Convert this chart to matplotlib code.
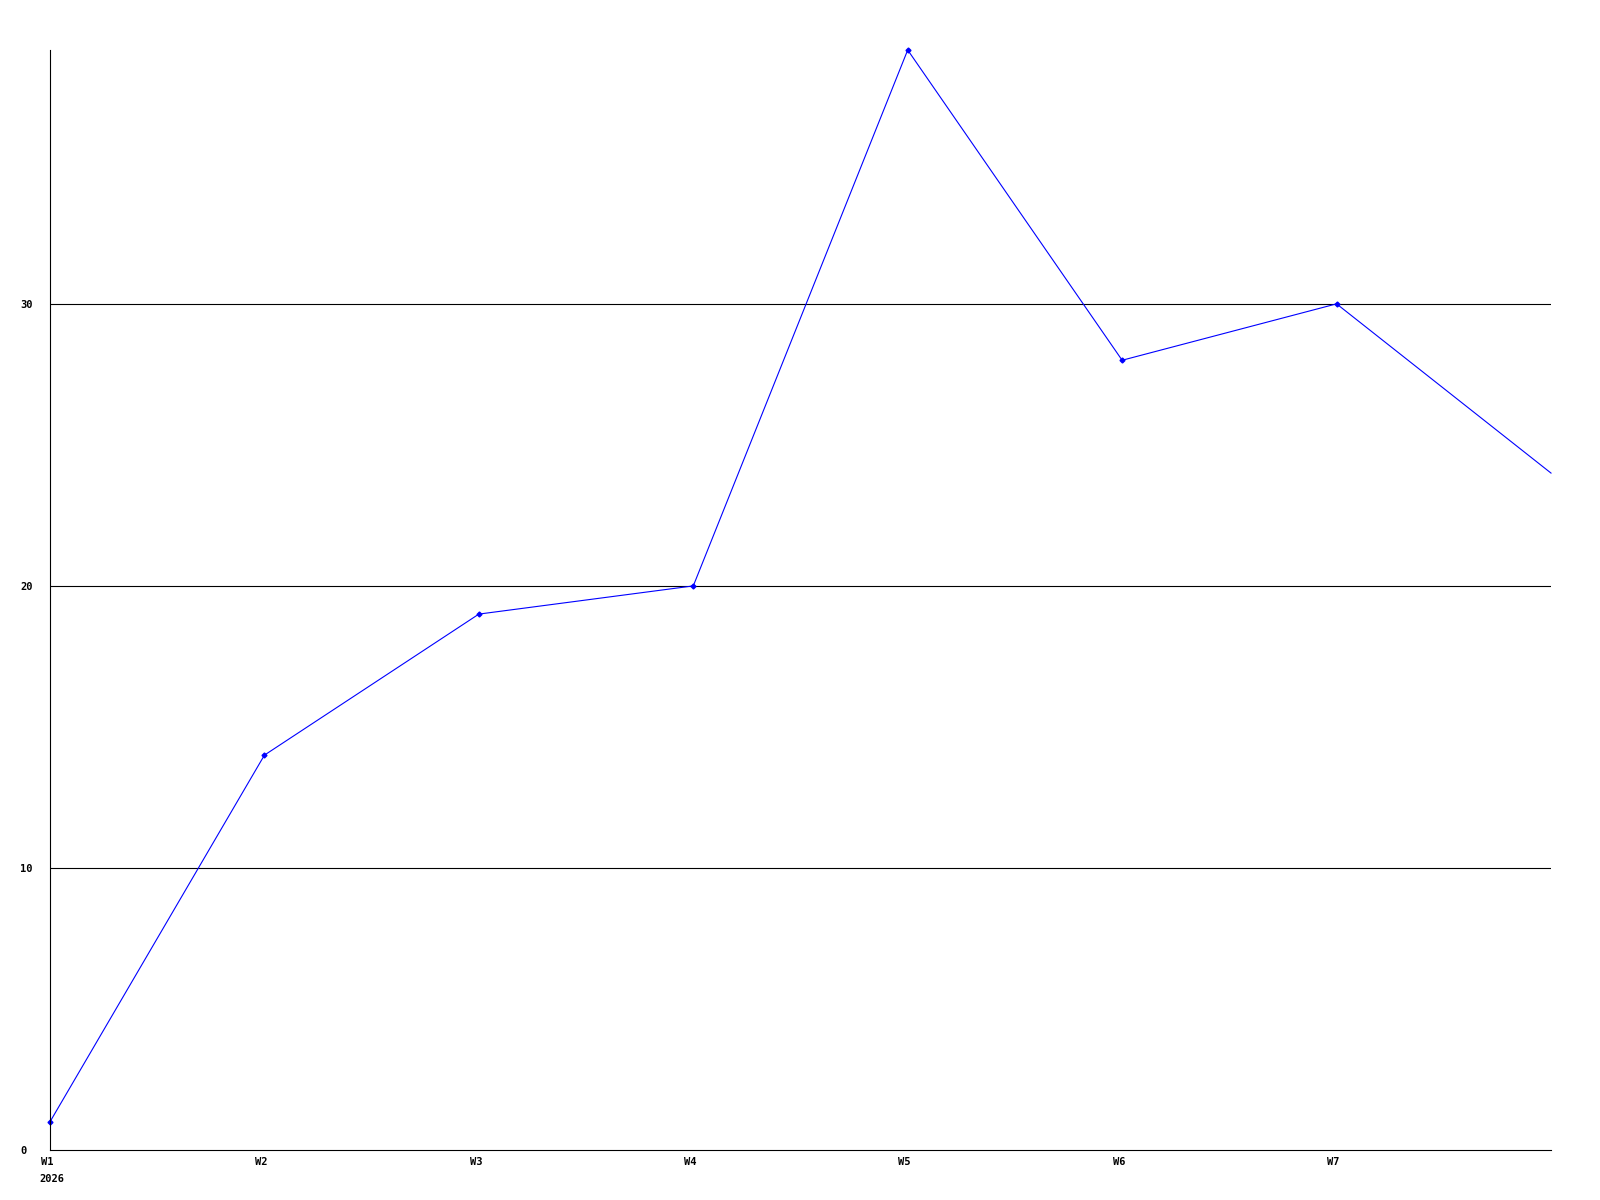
""" Weekly line chart, 2026. """

import matplotlib
matplotlib.use("Agg")
import matplotlib.pyplot as plt
import matplotlib.transforms as mtransforms

weeks = ["W1", "W2", "W3", "W4", "W5", "W6", "W7", "W8"]
values = [1, 14, 19, 20, 39, 28, 30, 24]
year_label = "2026"
y_ticks = [0, 10, 20, 30]

font = {"family": "DejaVu Sans Mono", "weight": "bold", "size": 7.5}

fig = plt.figure(figsize=(16, 12), dpi=100)
ax = fig.add_axes([50 / 1600, 50 / 1200, 1501 / 1600, 1100 / 1200])

x = list(range(len(weeks)))
ax.plot(x, values, color="#0000ff", linewidth=0.8, marker="D", markersize=2.5,
        markevery=slice(0, len(weeks) - 1), clip_on=False)

ax.set_xlim(0, len(weeks) - 1)
ax.set_ylim(0, max(values))

for v in y_ticks[1:]:
    ax.axhline(v, color="black", linewidth=0.8, zorder=0)

ax.spines["top"].set_visible(False)
ax.spines["right"].set_visible(False)
ax.spines["left"].set_linewidth(0.8)
ax.spines["bottom"].set_linewidth(0.8)

ax.set_xticks(x[:-1])
ax.set_xticklabels(weeks[:-1], fontdict=font)
ax.set_yticks(y_ticks)
ax.set_yticklabels([str(v) for v in y_ticks], fontdict=font)
ax.tick_params(axis="both", length=0)
ax.tick_params(axis="x", pad=5)
ax.tick_params(axis="y", pad=21.6)
for lab in ax.get_yticklabels():
    lab.set_horizontalalignment("left")

# shift week labels a few pixels left, like the reference
shift = mtransforms.ScaledTranslation(-3 / 100, 0, fig.dpi_scale_trans)
for lab in ax.get_xticklabels():
    lab.set_transform(lab.get_transform() + shift)

ax.annotate(year_label, xy=(0, 0), xycoords=("data", "axes fraction"),
            xytext=(-7.5, -17), textcoords="offset points",
            ha="left", va="top", **font)

plt.savefig("out.png", dpi=100)
plt.close()
